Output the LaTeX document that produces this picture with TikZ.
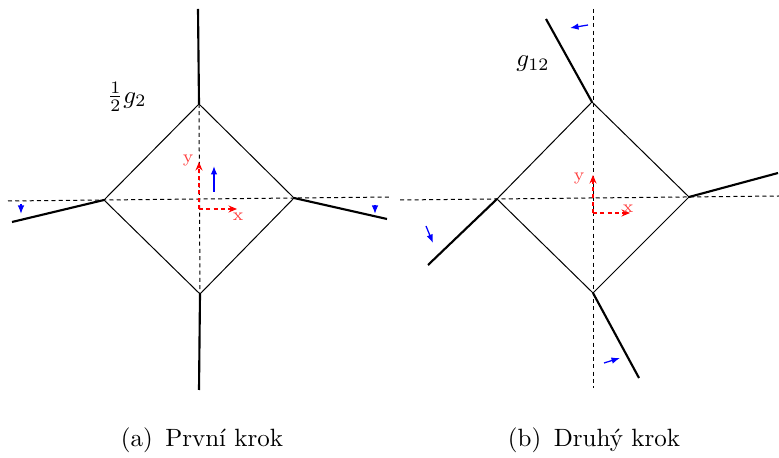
\documentclass[tikz,border=0pt]{standalone}
\usepackage{xcolor}
\definecolor{cEdge}{HTML}{000000}
\definecolor{cAxis}{HTML}{FF0000}
\definecolor{cMove}{HTML}{0000FF}
\usepackage{tikz}
\usetikzlibrary{positioning,arrows.meta}
\tikzset{
  edge-thin/.style={draw=cEdge,line width=0.4pt},
  edge-thick/.style={draw=cEdge,line width=0.85pt},
  guide/.style={draw=cEdge,line width=0.4pt,dash pattern=on 1.6pt off 1.3pt},
  axis-arrow/.style={-{Stealth[length=3.4pt,width=2.8pt]},draw=cAxis,
    line width=0.45pt,dash pattern=on 1.6pt off 1.3pt},
  axis-label/.style={text=cAxis!75,font=\scriptsize,inner sep=0pt},
  move-arrow/.style={-{Latex[length=3.4pt,width=2.6pt]},draw=cMove,line width=0.5pt},
  caption-text/.style={font=\normalsize,inner sep=0pt},
}

\begin{document}
\begin{tikzpicture}[x=0.4pt,y=-0.4pt]
  \useasboundingbox (0,0) rectangle (779,458);
  % (a) prvni krok
  \coordinate (aT) at (199,104);
  \coordinate (aL) at (104,200);
  \coordinate (aR) at (294,198);
  \coordinate (aB) at (200,294);
  \coordinate (aTe) at (198,9);
  \coordinate (aBe) at (199,390);
  \coordinate (aLe) at (12,222);
  \coordinate (aRe) at (387,219);
  \coordinate (aHl) at (8,201);
  \coordinate (aHr) at (391,197);
  \coordinate (aO) at (199,209);
  \coordinate (aX) at (237,209);
  \coordinate (aY) at (199,162);
  \draw[guide] (aHl) -- (aHr);
  \draw[guide] (aT) -- (aB);
  \draw[edge-thin] (aT) -- (aR) -- (aB) -- (aL) -- cycle;
  \draw[edge-thick] (aT) -- (aTe);
  \draw[edge-thick] (aB) -- (aBe);
  \draw[edge-thick] (aL) -- (aLe);
  \draw[edge-thick] (aR) -- (aRe);
  \draw[axis-arrow] (aO) -- (aX);
  \draw[axis-arrow] (aO) -- (aY);
  \node[axis-label] (ax-a) at (238,217) {x};
  \node[axis-label] (ay-a) at (188,161) {y};
  \coordinate (am1s) at (214,192); \coordinate (am1e) at (214,166);
  \coordinate (am2s) at (21,204);  \coordinate (am2e) at (21,214);
  \coordinate (am3s) at (375,205); \coordinate (am3e) at (375,214);
  \draw[move-arrow] (am1s) -- (am1e);
  \draw[move-arrow] (am2s) -- (am2e);
  \draw[move-arrow] (am3s) -- (am3e);
  \node (lab-a) at (127,97) {$\frac{1}{2}g_2$};
  \node[caption-text] (cap-a) at (202,440) {(a)\enspace První krok};

  % (b) druhy krok
  \coordinate (bT) at (592,102);
  \coordinate (bL) at (497,199);
  \coordinate (bR) at (689,197);
  \coordinate (bB) at (593,293);
  \coordinate (bTe) at (546,19);
  \coordinate (bBe) at (639,378);
  \coordinate (bLe) at (428,265);
  \coordinate (bRe) at (778,173);
  \coordinate (bHl) at (400,200);
  \coordinate (bHr) at (779,196);
  \coordinate (bVt) at (593,9);
  \coordinate (bVb) at (593,388);
  \coordinate (bO) at (593,213);
  \coordinate (bX) at (630,213);
  \coordinate (bY) at (593,175);
  \draw[guide] (bHl) -- (bHr);
  \draw[guide] (bVt) -- (bVb);
  \draw[edge-thin] (bT) -- (bR) -- (bB) -- (bL) -- cycle;
  \draw[edge-thick] (bT) -- (bTe);
  \draw[edge-thick] (bB) -- (bBe);
  \draw[edge-thick] (bL) -- (bLe);
  \draw[edge-thick] (bR) -- (bRe);
  \draw[axis-arrow] (bO) -- (bX);
  \draw[axis-arrow] (bO) -- (bY);
  \node[axis-label] (ax-b) at (628,209) {x};
  \node[axis-label] (ay-b) at (579,179) {y};
  \coordinate (bm1s) at (588,25);  \coordinate (bm1e) at (570,28);
  \coordinate (bm2s) at (426,226); \coordinate (bm2e) at (433,243);
  \coordinate (bm3s) at (604,363); \coordinate (bm3e) at (620,358);
  \draw[move-arrow] (bm1s) -- (bm1e);
  \draw[move-arrow] (bm2s) -- (bm2e);
  \draw[move-arrow] (bm3s) -- (bm3e);
  \node (lab-b) at (533,64) {$g_{12}$};
  \node[caption-text] (cap-b) at (594,440) {(b)\enspace Druhý krok};
\end{tikzpicture}
\end{document}
